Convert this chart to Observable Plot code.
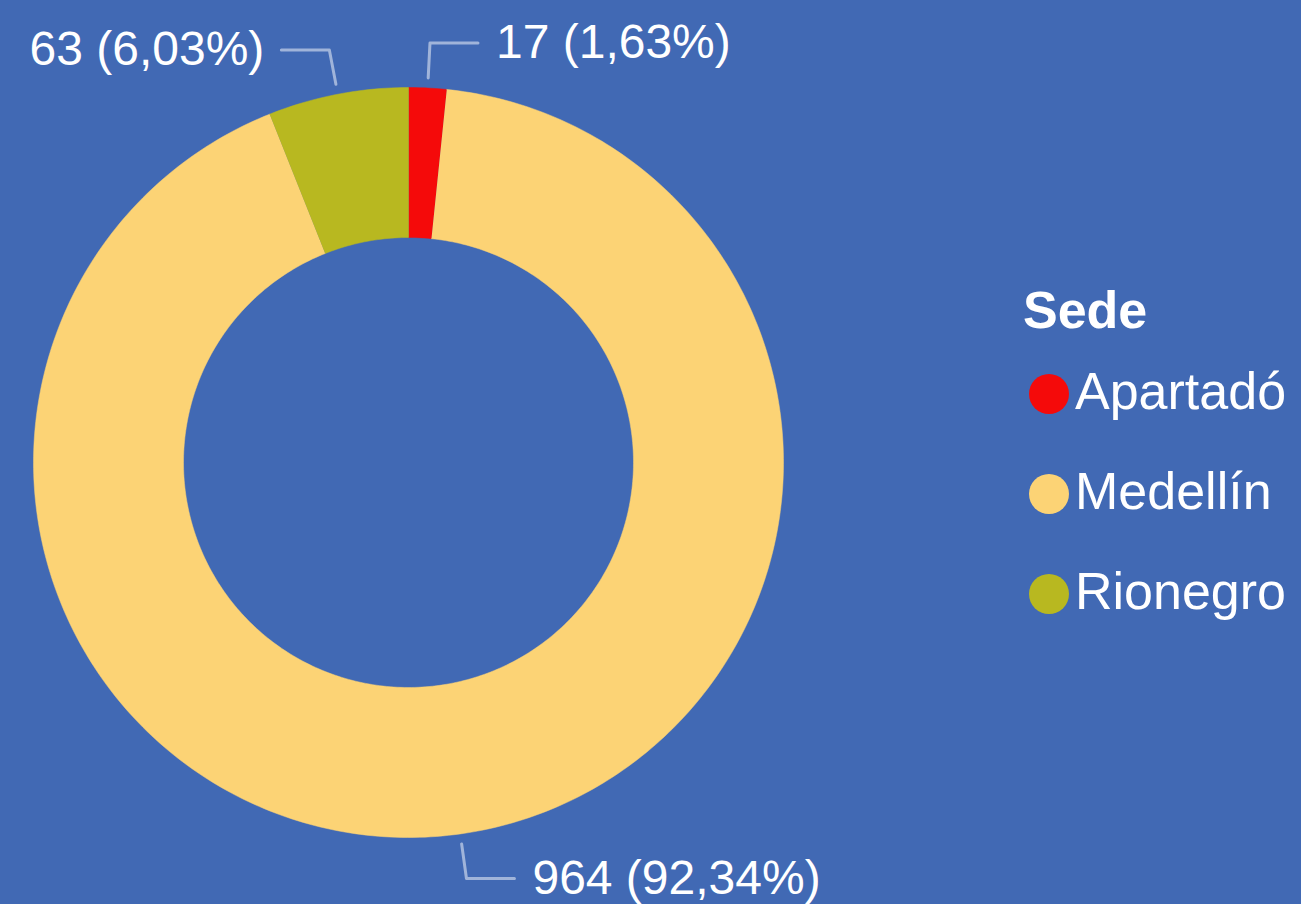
<!DOCTYPE html>
<html>
<head>
<meta charset="utf-8">
<script src="https://cdn.jsdelivr.net/npm/d3@7"></script>
<script src="https://cdn.jsdelivr.net/npm/@observablehq/plot@0.6"></script>
<style>
  html, body { margin: 0; padding: 0; background: #4169B4; width: 1301px; height: 904px; overflow: hidden; }
  #chart { position: absolute; left: 0; top: 0; }
  .leg { position: absolute; font-family: "Liberation Sans", Arial, sans-serif; color: white; font-size: 52px; line-height: 52px; white-space: nowrap; }
  .sw { position: absolute; width: 40px; height: 40px; border-radius: 50%; }
</style>
</head>
<body>
<div id="chart"></div>
<script>
const categories = ["Apartadó", "Medellín", "Rionegro"];
const values = [17, 964, 63];
const colors = ["#F50A0A", "#FCD375", "#B8B820"];
const legendTitle = "Sede";

const total = d3.sum(values);
const inner = 0.6;
// build slices
let acc = 0;
const slices = categories.map((c, i) => {
  const a0 = acc / total * 2 * Math.PI;
  acc += values[i];
  const a1 = acc / total * 2 * Math.PI;
  return {sede: c, value: values[i], a0, a1, mid: (a0 + a1) / 2, pct: values[i] / total * 100};
});

// polygon points for each arc
const arcPts = [];
for (const s of slices) {
  const n = Math.max(4, Math.ceil((s.a1 - s.a0) / (2 * Math.PI) * 400));
  for (let k = 0; k <= n; k++) {
    const a = s.a0 + (s.a1 - s.a0) * k / n;
    arcPts.push({sede: s.sede, x: Math.sin(a), y: Math.cos(a)});
  }
  for (let k = n; k >= 0; k--) {
    const a = s.a0 + (s.a1 - s.a0) * k / n;
    arcPts.push({sede: s.sede, x: inner * Math.sin(a), y: inner * Math.cos(a)});
  }
}

// leader lines
const r1 = 1.027, r2 = 1.12, hor = 0.128;
const leaderPts = [];
const labels = [];
for (const s of slices) {
  const sx = Math.sin(s.mid), cy = Math.cos(s.mid);
  const dir = sx >= 0 ? 1 : -1;
  const ex = r2 * sx, ey = r2 * cy;
  leaderPts.push({sede: s.sede, x: r1 * sx, y: r1 * cy});
  leaderPts.push({sede: s.sede, x: ex, y: ey});
  leaderPts.push({sede: s.sede, x: ex + dir * hor, y: ey});
  labels.push({x: ex + dir * hor, y: ey, dir,
    text: `${s.value} (${s.pct.toFixed(2).replace(".", ",")}%)`});
}

const marks = categories.map((c, i) =>
  Plot.line(arcPts.filter(d => d.sede === c), {x: "x", y: "y", fill: colors[i], stroke: colors[i], strokeWidth: 0.5})
);

const plot = Plot.plot({
  width: 1301,
  height: 904,
  margin: 0,
  style: {background: "#4169B4", fontFamily: "'Liberation Sans', Arial, sans-serif"},
  x: {domain: [-1, 1], range: [33, 783], axis: null},
  y: {domain: [-1, 1], range: [837, 87], axis: null},
  marks: [
    ...marks,
    Plot.line(leaderPts, {x: "x", y: "y", z: "sede", stroke: "white", strokeOpacity: 0.5, strokeWidth: 3, curve: "linear"}),
    Plot.text(labels.filter(d => d.dir > 0), {x: "x", y: "y", text: "text", textAnchor: "start", dx: 18, fontSize: 48, fill: "white", lineAnchor: "middle"}),
    Plot.text(labels.filter(d => d.dir < 0), {x: "x", y: "y", text: "text", textAnchor: "end", dx: -17, fontSize: 48, fill: "white", lineAnchor: "middle"})
  ]
});
document.getElementById("chart").appendChild(plot);

// legend
const body = document.body;
const t = document.createElement("div");
t.className = "leg";
t.style.left = "1023px";
t.style.top = (328 - 44) + "px";
t.style.fontWeight = "bold";
t.textContent = legendTitle;
body.appendChild(t);
categories.forEach((c, i) => {
  const sw = document.createElement("div");
  sw.className = "sw";
  sw.style.background = colors[i];
  sw.style.left = "1029px";
  sw.style.top = (374 + i * 100) + "px";
  body.appendChild(sw);
  const lab = document.createElement("div");
  lab.className = "leg";
  lab.style.left = "1075px";
  lab.style.top = (365 + i * 100) + "px";
  lab.textContent = c;
  body.appendChild(lab);
});
</script>
</body>
</html>
